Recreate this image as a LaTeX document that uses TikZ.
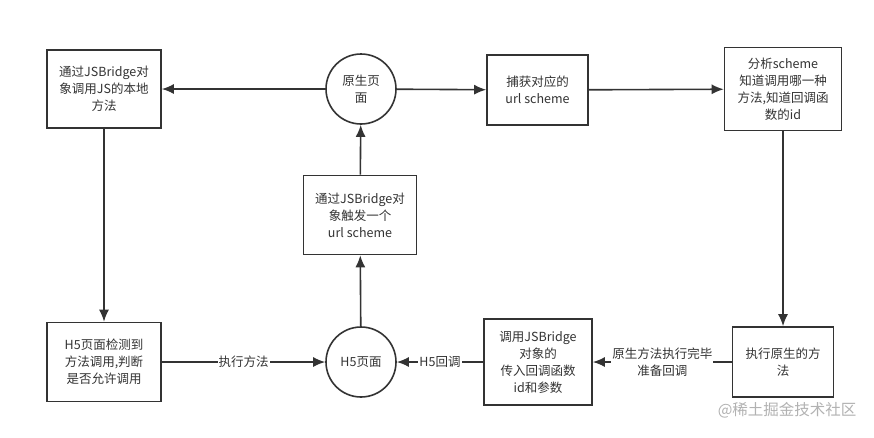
\documentclass[tikz,border=0pt]{standalone}
\usepackage{fontspec}
\setmainfont{Noto Sans CJK SC}
\usetikzlibrary{arrows.meta,positioning}

\definecolor{ink}{HTML}{333333}

\begin{document}
\begin{tikzpicture}[x=1pt,y=-1pt]
  \tikzset{box/.style={draw=ink,line width=1.6pt,fill=white,align=center,text=ink,
      inner sep=2pt,font=\fontsize{12.5}{17}\selectfont},
    page/.style={box,circle,minimum size=70pt},
    link/.style={draw=ink,line width=1.6pt,-{Latex[length=12pt,width=10pt]}},
    tag/.style={fill=white,inner sep=1pt,align=center,text=ink,font=\fontsize{12.5}{17}\selectfont}}
  \useasboundingbox[fill=white] (0,0) rectangle (874,437);
  % top row
  \node[box,minimum width=114pt,minimum height=78pt] (jsCall) at (104,89) {通过JSBridge对\\象调用JS的本地\\方法};
  \node[page] (native) at (361,89) {原生页\\面};
  \node[box,minimum width=101pt,minimum height=70pt] (catch) at (537.5,90) {捕获对应的\\url scheme};
  \node[box,minimum width=117pt,minimum height=83pt] (parse) at (783,89) {分析scheme\\知道调用哪一种\\方法,知道回调函\\数的id};
  % middle
  \node[box,minimum width=113pt,minimum height=79pt] (fire) at (360,215) {通过JSBridge对\\象触发一个\\url scheme};
  % bottom row
  \node[box,minimum width=114pt,minimum height=79pt] (check) at (104,362) {H5页面检测到\\方法调用,判断\\是否允许调用};
  \node[page] (h5) at (361,362) {H5页面};
  \node[box,minimum width=108pt,minimum height=86pt] (back) at (538,362) {调用JSBridge\\对象的\\传入回调函数\\id和参数};
  \node[box,minimum width=101pt,minimum height=70pt] (run) at (783,362) {执行原生的方\\法};

  \draw[link] (native) -- (jsCall);
  \draw[link] (native) -- (catch);
  \draw[link] (catch) -- (parse);
  \draw[link] (parse) -- (run);
  \draw[link] (run) -- node[tag] {原生方法执行完毕\\准备回调} (back);
  \draw[link] (back) -- node[tag] {H5回调} (h5);
  \draw[link] (check) -- node[tag] {执行方法} (h5);
  \draw[link] (jsCall) -- (check);
  \draw[link] (h5) -- (fire);
  \draw[link] (fire) -- (native);

  \node[text=black!30,font=\fontsize{15.5}{18}\selectfont,anchor=east] (mark) at (860,410) {@稀土掘金技术社区};
\end{tikzpicture}
\end{document}
